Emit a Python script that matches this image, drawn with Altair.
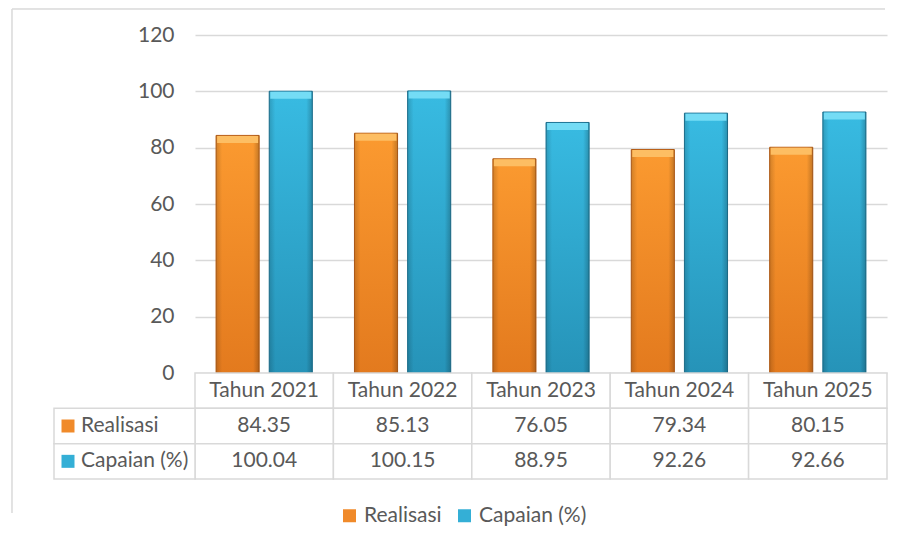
import altair as alt
import pandas as pd

categories = ["Tahun 2021", "Tahun 2022", "Tahun 2023", "Tahun 2024", "Tahun 2025"]
series = ["Realisasi", "Capaian (%)"]
realisasi = [84.35, 85.13, 76.05, 79.34, 80.15]
capaian = [100.04, 100.15, 88.95, 92.26, 92.66]
y_ticks = [0, 20, 40, 60, 80, 100, 120]
rows = ["header", "Realisasi", "Capaian (%)"]

long_df = pd.DataFrame(
    [{"category": c, "series": "Realisasi", "value": v} for c, v in zip(categories, realisasi)]
    + [{"category": c, "series": "Capaian (%)", "value": v} for c, v in zip(categories, capaian)]
)
header_df = pd.DataFrame({"category": categories, "row": ["header"] * len(categories)})
series_df = pd.DataFrame({"series": series})

TXT = "#595959"
GRID = "#D9D9D9"
FONT = "Lato"
FS = 21
W = 692
H = 338

x_scale = alt.Scale(domain=categories, paddingInner=0, paddingOuter=0)
xo_scale = alt.Scale(domain=series, paddingInner=0.189, paddingOuter=0.396)
y_scale = alt.Scale(domain=[0, 120])

orange_grad = alt.Gradient(
    gradient="linear", x1=0, y1=0, x2=0, y2=1,
    stops=[alt.GradientStop(offset=0, color="#FB9A30"),
           alt.GradientStop(offset=1, color="#E37A1E")],
)
blue_grad = alt.Gradient(
    gradient="linear", x1=0, y1=0, x2=0, y2=1,
    stops=[alt.GradientStop(offset=0, color="#38BBE2"),
           alt.GradientStop(offset=1, color="#2693B8")],
)
edge_shade = alt.Gradient(
    gradient="linear", x1=0, y1=0, x2=1, y2=0,
    stops=[alt.GradientStop(offset=0, color="rgba(0,0,0,0.16)"),
           alt.GradientStop(offset=0.14, color="rgba(0,0,0,0)"),
           alt.GradientStop(offset=0.86, color="rgba(0,0,0,0)"),
           alt.GradientStop(offset=1, color="rgba(0,0,0,0.22)")],
)

base_top = alt.Chart(long_df)
enc_x = alt.X("category:N", scale=x_scale, axis=None, sort=categories)
enc_xo = alt.XOffset("series:N", scale=xo_scale, sort=series)

def bars(name, grad, stroke, bevel):
    src = base_top.transform_filter(alt.datum.series == name)
    b = src.mark_bar(color=grad, stroke=stroke, strokeWidth=1).encode(
        x=enc_x, xOffset=enc_xo,
        y=alt.Y("value:Q", scale=y_scale,
                axis=alt.Axis(values=y_ticks, title=None, domain=False, ticks=False,
                              labelPadding=21, labelFontSize=FS, labelColor=TXT,
                              labelFont=FONT, gridColor=GRID, gridWidth=1.3)),
    )
    s = src.mark_bar(color=edge_shade).encode(
        x=enc_x, xOffset=enc_xo, y=alt.Y("value:Q", scale=y_scale),
    )
    t = src.mark_tick(color=bevel, thickness=7, size=41, yOffset=4, opacity=1).encode(
        x=enc_x, xOffset=enc_xo, y=alt.Y("value:Q", scale=y_scale),
    )
    return [b, s, t]

border_v_top = alt.Chart(series_df).mark_rule(color=GRID, strokeWidth=1).encode(
    x=alt.value(-183), y=alt.value(-26), y2=alt.value(H)
)
border_h_top = alt.Chart(series_df).mark_rule(color=GRID, strokeWidth=1).encode(
    x=alt.value(-183), x2=alt.value(690), y=alt.value(-26)
)

top = alt.layer(
    *bars("Realisasi", orange_grad, "#B95F18", "#FDBE63"),
    *bars("Capaian (%)", blue_grad, "#1E7595", "#74DCF5"),
    border_v_top, border_h_top,
).properties(width=W, height=H)

row_scale = alt.Scale(domain=rows, paddingInner=0, paddingOuter=0)
xb = alt.X("category:N", scale=x_scale, axis=None, sort=categories)

hdr_cells = alt.Chart(header_df).mark_rect(fill="white", stroke=GRID, strokeWidth=1.5).encode(
    x=xb, y=alt.Y("row:N", scale=row_scale, axis=None)
)
val_cells = alt.Chart(long_df).mark_rect(fill="white", stroke=GRID, strokeWidth=1.5).encode(
    x=xb, y=alt.Y("series:N", scale=row_scale, axis=None)
)
hdr_text = alt.Chart(header_df).mark_text(font=FONT, fontSize=FS, color=TXT).encode(
    x=xb, y=alt.Y("row:N", scale=row_scale, axis=None), text="category:N"
)
val_text = alt.Chart(long_df).mark_text(font=FONT, fontSize=FS, color=TXT).encode(
    x=xb, y=alt.Y("series:N", scale=row_scale, axis=None),
    text=alt.Text("value:Q", format=".2f"),
)
lab_cells = alt.Chart(series_df).mark_rect(fill="white", stroke=GRID, strokeWidth=1.5).encode(
    x=alt.value(-141), x2=alt.value(0), y=alt.Y("series:N", scale=row_scale, axis=None)
)
lab_text = alt.Chart(series_df).mark_text(font=FONT, fontSize=FS, color=TXT, align="left").encode(
    x=alt.value(-114), y=alt.Y("series:N", scale=row_scale, axis=None), text="series:N"
)
lab_sq = alt.Chart(series_df).mark_square(size=169, opacity=1).encode(
    x=alt.value(-127), y=alt.Y("series:N", scale=row_scale, axis=None),
    color=alt.Color("series:N",
                    scale=alt.Scale(domain=series, range=["#F08A2A", "#34AFD6"]),
                    sort=series,
                    legend=alt.Legend(title=None, orient="none", legendX=144, legendY=470,
                                      direction="horizontal", symbolType="square",
                                      symbolSize=169, labelFontSize=FS, labelColor=TXT,
                                      labelFont=FONT, columnPadding=12, labelOffset=4)),
)
border_v_bot = alt.Chart(series_df).mark_rule(color=GRID, strokeWidth=1).encode(
    x=alt.value(-183), y=alt.value(0), y2=alt.value(140)
)

bottom = alt.layer(
    hdr_cells, val_cells, hdr_text, val_text, lab_cells, lab_text, lab_sq, border_v_bot
).properties(width=W, height=106)

chart = alt.vconcat(top, bottom, spacing=0, bounds="flush").properties(
    padding={"left": 3, "top": 0, "right": 0, "bottom": 0}
).configure(font=FONT, view={"stroke": "transparent", "strokeWidth": 0})

chart.save("out.html", embed_options={"renderer": "svg", "actions": False})
